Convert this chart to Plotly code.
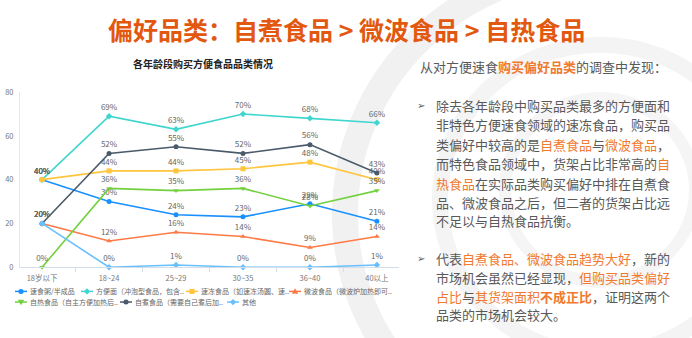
import plotly.graph_objects as go

W, H = 692, 338
FONT = "Noto Sans CJK SC"

categories = ["18岁以下", "18~24", "25~29", "30~35", "36~40", "40以上"]
series_names = [
    "速食粥/半成品",
    "方便面（冲泡型食品，包含..",
    "速冻食品（如速冻汤圆、速..",
    "微波食品（微波炉加热即可..",
    "自热食品（自主方便加热后..",
    "自煮食品（需要自己煮后加..",
    "其他",
]
suShi = [40, 30, 24, 23, 29, 21]
fangBianMian = [40, 69, 63, 70, 68, 66]
suDong = [40, 44, 44, 45, 48, 40]
weiBo = [20, 12, 16, 14, 9, 14]
ziRe = [0, 36, 35, 36, 28, 35]
ziZhu = [20, 52, 55, 52, 56, 43]
qiTa = [20, 0, 1, 0, 0, 1]
series_values = [suShi, fangBianMian, suDong, weiBo, ziRe, ziZhu, qiTa]
y_ticks = [0, 20, 40, 60, 80]

colors = ["#1890ff", "#40d6cf", "#ffc53d", "#ff7a45", "#73d13d", "#4a5a6a", "#69c0ff"]
symbols = ["circle", "diamond", "square", "triangle-up", "triangle-down", "circle", "diamond"]

fig = go.Figure()
for name, vals, c, s in zip(series_names, series_values, colors, symbols):
    fig.add_trace(go.Scatter(
        x=categories, y=vals, name=name, mode="lines+markers+text",
        line=dict(color=c, width=1.6),
        marker=dict(color=c, size=5, symbol=s),
        text=[f"{v}%" for v in vals], textposition="top center",
        textfont=dict(size=8, color="#666666", family=FONT),
        cliponaxis=False, showlegend=False,
    ))

def px(x):
    return x / W

def py(y):
    return 1 - y / H

shapes = []
# faint decorative rings in the background
for cx, cy, r, wdt, col in [(600, 215, 255, 26, "#f1f1f1"), (600, 200, 160, 16, "#f4f4f4"), (600, 190, 95, 12, "#f5f5f5")]:
    shapes.append(dict(type="circle", xref="paper", yref="paper", layer="below",
                       x0=px(cx - r), x1=px(cx + r), y0=py(cy + r), y1=py(cy - r),
                       line=dict(color=col, width=wdt)))

annotations = []
annotations.append(dict(
    text="<b>偏好品类：自煮食品 > 微波食品 > 自热食品</b>", x=px(346), y=py(24),
    xref="paper", yref="paper", xanchor="center", yanchor="middle", showarrow=False,
    font=dict(size=25, color="#e2580f", family=FONT)))
annotations.append(dict(
    text="<b>各年龄段购买方便食品品类情况</b>", x=px(203), y=py(59),
    xref="paper", yref="paper", xanchor="center", yanchor="middle", showarrow=False,
    font=dict(size=10, color="#222222", family=FONT)))

# compact legend (key swatches + text), laid out like the reference
legend_pos = [(21, 295), (87, 295), (192, 295), (295, 295), (21, 306), (126, 306), (233, 306)]
for (mx, my), name, c, s in zip(legend_pos, series_names, colors, symbols):
    shapes.append(dict(type="line", xref="paper", yref="paper",
                       x0=px(mx - 6), x1=px(mx + 6), y0=py(my), y1=py(my),
                       line=dict(color=c, width=1.5)))
    r = 2.6
    if s == "circle":
        shapes.append(dict(type="circle", xref="paper", yref="paper",
                           x0=px(mx - r), x1=px(mx + r), y0=py(my + r), y1=py(my - r),
                           fillcolor=c, line=dict(color=c, width=0)))
    elif s == "square":
        shapes.append(dict(type="rect", xref="paper", yref="paper",
                           x0=px(mx - r), x1=px(mx + r), y0=py(my + r), y1=py(my - r),
                           fillcolor=c, line=dict(color=c, width=0)))
    else:
        if s == "diamond":
            pts = [(mx, my - 3.2), (mx + 3.2, my), (mx, my + 3.2), (mx - 3.2, my)]
        elif s == "triangle-up":
            pts = [(mx, my - 3.2), (mx + 3.2, my + 2.4), (mx - 3.2, my + 2.4)]
        else:
            pts = [(mx, my + 3.2), (mx + 3.2, my - 2.4), (mx - 3.2, my - 2.4)]
        path = "M " + " L ".join(f"{px(a):.5f},{py(b):.5f}" for a, b in pts) + " Z"
        shapes.append(dict(type="path", xref="paper", yref="paper", path=path,
                           fillcolor=c, line=dict(color=c, width=0)))
    annotations.append(dict(
        text=name, x=px(mx + 7), y=py(my), xref="paper", yref="paper",
        xanchor="left", yanchor="middle", showarrow=False,
        font=dict(size=7, color="#666666", family=FONT)))

O = "#f07a30"
def o(t):
    return f"<span style='color:{O}'>{t}</span>"
def ob(t):
    return f"<span style='color:{O}'><b>{t}</b></span>"

lines = [
    (418, 63, "从对方便速食" + ob("购买偏好品类") + "的调查中发现："),
    (434, 103, "除去各年龄段中购买品类最多的方便面和"),
    (434, 123, "非特色方便速食领域的速冻食品，购买品"),
    (434, 143, "类偏好中较高的是" + o("自煮食品") + "与" + o("微波食品") + "，"),
    (434, 163, "而特色食品领域中，货架占比非常高的" + o("自")),
    (434, 183, o("热食品") + "在实际品类购买偏好中排在自煮食"),
    (434, 203, "品、微波食品之后，但二者的货架占比远"),
    (434, 222, "不足以与自热食品抗衡。"),
    (434, 261, "代表" + o("自煮食品、微波食品趋势大好") + "，新的"),
    (434, 281, "市场机会虽然已经显现，" + o("但购买品类偏好")),
    (434, 300, o("占比") + "与" + o("其货架面积") + ob("不成正比") + "，证明这两个"),
    (434, 319, "品类的市场机会较大。"),
]
for x, y, t in lines:
    annotations.append(dict(
        text=t, x=px(x), y=py(y), xref="paper", yref="paper",
        xanchor="left", yanchor="middle", showarrow=False,
        font=dict(size=13, color="#595959", family=FONT)))
for y in [103, 261]:
    annotations.append(dict(
        text="➢", x=px(421), y=py(y), xref="paper", yref="paper",
        xanchor="center", yanchor="middle", showarrow=False,
        font=dict(size=10, color="#595959", family="DejaVu Sans")))

fig.update_layout(
    width=W, height=H, margin=dict(l=0, r=0, t=0, b=0),
    paper_bgcolor="white", plot_bgcolor="rgba(0,0,0,0)",
    font=dict(family=FONT, color="#666666"),
    shapes=shapes, annotations=annotations,
    xaxis=dict(domain=[px(20), px(399)], type="category", showgrid=False,
               showline=True, linecolor="#d5dde8", linewidth=1,
               ticks="outside", tickson="boundaries", ticklen=4, tickcolor="#d5dde8",
               tickfont=dict(size=7.5, color="#777777", family=FONT),
               ticklabelstandoff=4),
    yaxis=dict(domain=[py(270), py(89)], range=[0, 80], tickvals=y_ticks,
               showgrid=False, zeroline=False, showline=True, linecolor="#e3e8ef",
               ticks="", tickfont=dict(size=7.5, color="#777777", family=FONT),
               ticklabelstandoff=4),
    showlegend=False,
)

fig.write_html("out.html")
